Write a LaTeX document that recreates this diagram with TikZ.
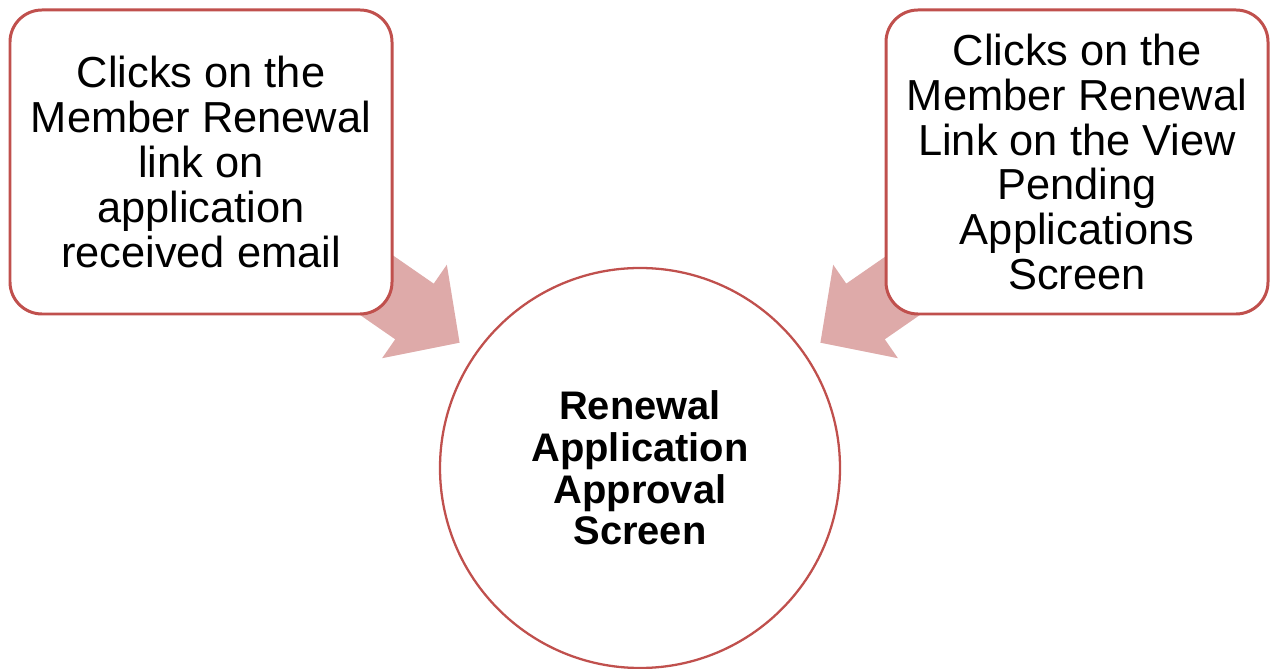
\documentclass[tikz,border=0pt]{standalone}
\usepackage{fontspec}
\setmainfont{Liberation Sans}
\usetikzlibrary{positioning,shapes.arrows}
\definecolor{accentred}{RGB}{192,80,77}
\definecolor{arrowpink}{RGB}{222,170,169}

\begin{document}
\begin{tikzpicture}[
    x=0.2mm, y=0.2mm,
    every node/.style={font=\fontsize{24.7pt}{25.5pt}\selectfont},
    srcbox/.style={draw=accentred, line width=1.7pt, fill=white, rounded corners=6.4mm, minimum width=76.4mm, minimum height=60.8mm, align=center, inner sep=0pt},
    target/.style={draw=accentred, line width=1.3pt, fill=white, circle, minimum size=80mm, align=center, inner sep=0pt, font=\fontsize{22.7pt}{23.8pt}\selectfont\bfseries},
    blockarr/.style={single arrow, fill=arrowpink, draw=none, inner xsep=0pt, inner ysep=6.7mm, minimum height=35mm, single arrow head extend=4.6mm, single arrow tip angle=92, anchor=tip}
]
\useasboundingbox (0,0) rectangle (1270,669);
% block arrows first, the boxes cover their tails
\node[blockarr, rotate=-34.7] (arrL) at (460,326) {};
\node[blockarr, rotate=214.7] (arrR) at (820,326) {};

\node[srcbox] (email) at (201,507) {Clicks on the\\Member Renewal\\link on\\application\\received email};
\node[srcbox] (pending) at (1077,507) {Clicks on the\\Member Renewal\\Link on the View\\Pending\\Applications\\Screen};
\node[target] (approval) at (640,201) {Renewal\\Application\\Approval\\Screen};
\end{tikzpicture}
\end{document}
